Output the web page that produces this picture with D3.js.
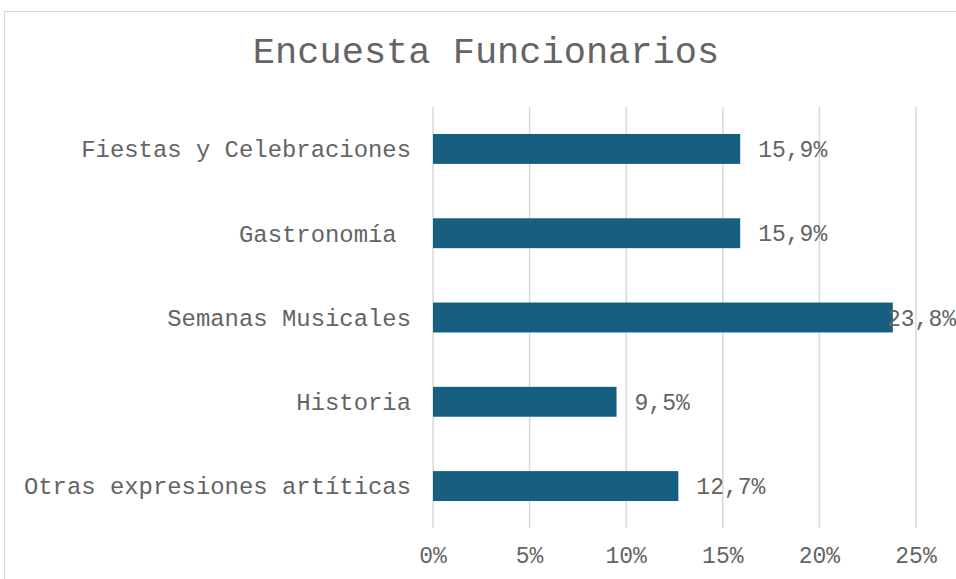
<!DOCTYPE html>
<html>
<head>
<meta charset="utf-8">
<script src="https://cdn.jsdelivr.net/npm/d3@7"></script>
<style>
    body { margin: 0; background: #fff; }
    svg text { font-family: "Liberation Mono", "Courier New", monospace; fill: #646464; white-space: pre; }
</style>
</head>
<body>
<svg id="chart" width="956" height="579"></svg>
<script>
    // data
    var categories = ["Fiestas y Celebraciones", "Gastronomía ", "Semanas Musicales", "Historia", "Otras expresiones artíticas"];
    var values = [15.9, 15.9, 23.8, 9.5, 12.7];
    var xTicks = [0, 5, 10, 15, 20, 25];
    var title = "Encuesta Funcionarios";

    var width = 956, height = 579;
    var plotLeft = 433, plotRight = 916, plotTop = 107, plotBottom = 528;

    var svg = d3.select("#chart");

    // outer frame
    svg.append("rect")
        .attr("x", 4.5).attr("y", 11.5)
        .attr("width", 1000).attr("height", 600)
        .attr("fill", "none").attr("stroke", "#d9d9d9").attr("stroke-width", 1);

    svg.append("text")
        .attr("x", 486).attr("y", 63)
        .attr("text-anchor", "middle")
        .style("font-size", "37px")
        .text(title);

    var x = d3.scaleLinear().domain([0, 25]).range([plotLeft, plotRight]);
    var y = d3.scaleBand().domain(categories).range([plotTop, plotBottom]).paddingInner(0.645).paddingOuter(0.32);

    // grid
    svg.append("g").selectAll("line").data(xTicks).enter().append("line")
        .attr("x1", function(d) {return x(d);}).attr("x2", function(d) {return x(d);})
        .attr("y1", plotTop).attr("y2", plotBottom)
        .attr("stroke", "#d9d9d9").attr("stroke-width", 1.5);

    // x tick labels
    svg.append("g").selectAll("text").data(xTicks).enter().append("text")
        .attr("x", function(d) {return x(d);})
        .attr("y", 563)
        .attr("text-anchor", "middle")
        .style("font-size", "23px")
        .text(function(d) {return d + "%";});

    // category labels
    svg.append("g").selectAll("text").data(categories).enter().append("text")
        .attr("x", 411)
        .attr("y", function(d) {return y(d) + y.bandwidth() / 2;})
        .attr("dy", "0.35em")
        .attr("text-anchor", "end")
        .style("font-size", "23.9px")
        .text(function(d) {return d;});

    var data = categories.map(function(c, i) {return {cat: c, val: values[i]};});

    svg.append("g").selectAll("rect").data(data).enter().append("rect")
        .attr("x", x(0))
        .attr("y", function(d) {return y(d.cat);})
        .attr("width", function(d) {return x(d.val) - x(0);})
        .attr("height", y.bandwidth())
        .attr("fill", "#175f80");

    // value labels, pulled back inside when they would run off the edge
    svg.append("g").selectAll("text").data(data).enter().append("text")
        .attr("y", function(d) {return y(d.cat) + y.bandwidth() / 2;})
        .attr("dy", "0.35em")
        .style("font-size", "23px")
        .text(function(d) {return d.val.toFixed(1).replace(".", ",") + "%";})
        .attr("x", function(d) {
            var w = this.getComputedTextLength();
            var px = x(d.val) + 18;
            return Math.min(px, width - w);
        });
</script>
</body>
</html>
